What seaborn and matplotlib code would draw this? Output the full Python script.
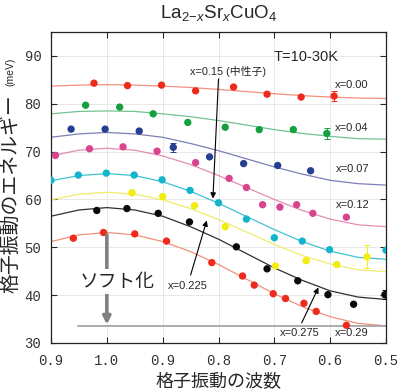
import numpy as np
import pandas as pd
import matplotlib
matplotlib.use('Agg')
import matplotlib.pyplot as plt
import seaborn as sns

# 横軸は目盛り単位 (0..6) で持ち、ラベルだけ差し替える
tick_pos = [0, 1, 2, 3, 4, 5, 6]
tick_labels = ['0.9', '1.0', '0.9', '0.8', '0.7', '0.6', '0.5']
doping = ['0.00', '0.04', '0.07', '0.12', '0.15', '0.225', '0.275', '0.29']

# 測定点
q_000 = [0.77, 1.37, 1.98, 2.59, 3.27, 3.87, 4.48, 5.07]
e_000 = [84.3, 83.8, 83.9, 82.7, 83.5, 82.0, 81.4, 81.6]
q_004 = [0.62, 1.23, 1.83, 2.45, 3.12, 3.73, 4.34, 4.94]
e_004 = [79.7, 79.3, 77.9, 76.1, 75.1, 74.6, 74.6, 73.8]
q_007 = [0.36, 0.97, 1.58, 2.19, 2.84, 3.45, 4.06, 4.65]
e_007 = [74.7, 74.7, 74.3, 70.9, 68.9, 67.5, 67.1, 66.0]
q_012 = [0.08, 0.69, 1.29, 1.90, 2.59, 3.19, 3.50, 3.79, 4.10, 4.40, 4.69, 5.29]
e_012 = [69.2, 70.6, 71.0, 70.1, 67.7, 64.4, 62.5, 58.9, 58.4, 58.9, 57.1, 56.3]
q_015 = [0.0, 0.49, 0.99, 1.49, 1.99, 2.49, 3.00, 3.50, 4.00, 4.50, 4.99, 6.00]
e_015 = [64.0, 65.1, 65.5, 65.1, 64.1, 61.9, 59.3, 55.9, 52.0, 51.3, 49.5, 49.4]
q_0225 = [1.45, 2.00, 2.57, 3.12, 4.02, 4.57, 5.12, 5.66]
e_0225 = [61.4, 60.6, 58.7, 54.3, 46.1, 47.2, 46.4, 48.0]
q_0275 = [0.82, 1.36, 1.92, 2.48, 3.32, 3.87, 4.42, 4.96, 5.42, 5.98]
e_0275 = [57.7, 58.1, 57.1, 55.3, 50.1, 45.5, 43.0, 40.1, 38.1, 40.1]
q_029 = [0.40, 0.94, 1.50, 2.07, 2.88, 3.43, 3.64, 3.98, 4.20, 4.53, 4.75, 5.29]
e_029 = [51.9, 53.1, 52.8, 51.3, 46.8, 44.0, 42.1, 40.3, 39.3, 38.3, 36.6, 33.7]

# フィット曲線 (図から読んだ値)
fit_q = [0, 0.5, 1, 1.5, 2, 2.5, 3, 3.5, 4, 4.5, 5, 5.5, 6]
fit_000 = [83.7, 83.9, 84.0, 83.9, 83.7, 83.4, 83.0, 82.55, 82.1, 81.7, 81.4, 81.2, 81.1]
fit_004 = [77.9, 78.4, 78.5, 78.4, 77.9, 77.3, 76.5, 75.55, 74.6, 73.8, 73.2, 72.7, 72.6]
fit_007 = [73.0, 73.7, 74.0, 73.7, 73.0, 71.7, 70.2, 68.5, 66.8, 65.3, 64.0, 63.3, 63.0]
fit_012 = [69.1, 70.3, 70.7, 70.3, 69.1, 67.3, 65.0, 62.5, 60.0, 57.7, 55.9, 54.7, 54.3]
fit_015 = [63.9, 65.0, 65.4, 65.0, 63.7, 61.7, 59.2, 56.45, 53.7, 51.2, 49.2, 47.9, 47.5]
fit_0225 = [59.9, 61.1, 61.5, 61.1, 59.9, 58.1, 55.8, 53.2, 50.6, 48.3, 46.5, 45.3, 44.9]
fit_0275 = [56.5, 57.8, 58.3, 57.8, 56.5, 54.3, 51.7, 48.7, 45.7, 43.1, 40.9, 39.6, 39.1]
fit_029 = [51.2, 52.6, 53.1, 52.6, 51.2, 49.1, 46.4, 43.35, 40.3, 37.6, 35.5, 34.1, 33.6]

# 誤差棒 (系列, 点の番号, 大きさ)
err_series = ['0.00', '0.04', '0.07', '0.225', '0.275']
err_index = [7, 7, 3, 7, 9]
err_size = [1.1, 1.2, 0.9, 2.4, 1.0]

# ソフト化の矢印と下限線
soft_q = 1.0
soft_top = 52.6
soft_floor = 33.65
floor_q = [0.48, 6.0]

pts_q = [q_000, q_004, q_007, q_012, q_015, q_0225, q_0275, q_029]
pts_e = [e_000, e_004, e_007, e_012, e_015, e_0225, e_0275, e_029]
fits = [fit_000, fit_004, fit_007, fit_012, fit_015, fit_0225, fit_0275, fit_029]

dot_colors = ['#ee2a1c', '#14a040', '#263f92', '#d8448e', '#14b4cc', '#f2ec10', '#0a0a0a', '#ee2a1c']
line_colors = ['#f2907e', '#74c294', '#7c80b8', '#e68cb4', '#40c2d4', '#f0ec6a', '#303030', '#f2907e']

pts = pd.concat([pd.DataFrame({'q': q, 'E': e, 'x': d}) for q, e, d in zip(pts_q, pts_e, doping)])
fit_df = pd.concat([pd.DataFrame({'q': fit_q, 'E': f, 'x': d}) for f, d in zip(fits, doping)])

sns.set_style('ticks')
plt.rcParams['font.family'] = ['Liberation Sans', 'Noto Sans CJK JP', 'DejaVu Sans']
plt.rcParams['mathtext.fontset'] = 'custom'
plt.rcParams['mathtext.rm'] = 'Liberation Sans'
plt.rcParams['mathtext.it'] = 'Liberation Sans:italic'

fig = plt.figure(figsize=(4, 3.91), dpi=100)
ax = fig.add_axes([51 / 400, 48 / 391, 335 / 400, 311 / 391])

for v in tick_pos:
    ax.axvline(v, color='#e4e4e4', lw=0.6, zorder=0)
for v in range(30, 100, 10):
    ax.axhline(v, color='#e4e4e4', lw=0.6, zorder=0)

sns.lineplot(data=fit_df, x='q', y='E', hue='x', palette=dict(zip(doping, line_colors)),
             lw=0.9, legend=False, ax=ax, zorder=2)
sns.scatterplot(data=pts, x='q', y='E', hue='x', palette=dict(zip(doping, dot_colors)),
                s=28, linewidth=0, legend=False, ax=ax, zorder=3)

for d, i, s in zip(err_series, err_index, err_size):
    k = doping.index(d)
    ax.errorbar(pts_q[k][i], pts_e[k][i], yerr=s, fmt='none', ecolor=dot_colors[k],
                elinewidth=0.7, capsize=2, capthick=0.7, zorder=3)

ax.plot(floor_q, [soft_floor, soft_floor], color='#ababab', lw=1.4, zorder=2)
ax.annotate('', xy=(soft_q, soft_floor + 0.2), xytext=(soft_q, soft_top),
            arrowprops=dict(arrowstyle='-|>', lw=2.6, color='#808080', mutation_scale=11,
                            shrinkA=0, shrinkB=0), zorder=4)
ax.text(0.52, 42.8, 'ソフト化', fontsize=13.5, ha='left', va='center', zorder=5,
        family=['Noto Sans CJK JP'], bbox=dict(fc='white', ec='none', pad=1.5))

arrow_kw = dict(arrowstyle='-|>', lw=0.8, color='k', mutation_scale=8, shrinkA=0, shrinkB=0)
ax.annotate('', xy=(2.90, 60.2), xytext=(3.0, 85.2), arrowprops=arrow_kw, zorder=5)
ax.annotate('', xy=(2.79, 55.6), xytext=(2.50, 44.2), arrowprops=arrow_kw, zorder=5)
ax.annotate('', xy=(4.79, 41.6), xytext=(4.49, 34.2), arrowprops=arrow_kw, zorder=5)

ax.text(3.98, 89.8, 'T=10-30K', fontsize=10.5, va='center')
ax.text(2.49, 86.8, 'x=0.15 (中性子)', fontsize=7.8, va='center')
lab_kw = dict(fontsize=8, va='center')
ax.text(5.09, 83.9, 'x=0.00', **lab_kw)
ax.text(5.09, 75.0, 'x=0.04', **lab_kw)
ax.text(5.11, 66.3, 'x=0.07', **lab_kw)
ax.text(5.11, 58.8, 'x=0.12', **lab_kw)
ax.text(2.10, 41.9, 'x=0.225', **lab_kw)
ax.text(4.10, 32.0, 'x=0.275', **lab_kw)
ax.text(5.09, 32.0, 'x=0.29', **lab_kw)

ax.set_xlim(0, 6)
ax.set_ylim(30, 95)
ax.set_xticks(tick_pos)
ax.set_xticklabels(tick_labels)
ax.set_yticks(range(30, 100, 10))
ax.tick_params(direction='in', top=True, right=True, length=4, width=0.8, labelsize=10,
               labelcolor='#333333')
ax.tick_params(axis='x', pad=8)
ax.tick_params(axis='y', pad=7)
for lab in ax.get_xticklabels() + ax.get_yticklabels():
    lab.set_family(['Liberation Mono'])
for sp in ax.spines.values():
    sp.set_linewidth(0.9)
    sp.set_color('#222222')
ax.set_xlabel('')
ax.set_ylabel('')

fig.text(0.546, 1 - 13 / 391, r'La$_{2\!-\!x}$Sr$_x$CuO$_4$', fontsize=13.5, ha='center', va='center')
fig.text(0.546, 1 - 381 / 391, '格子振動の波数', fontsize=13, ha='center', va='center',
         family=['Noto Sans CJK JP'])
fig.text(12 / 400, 1 - 194 / 391, '格子振動のエネルギー', fontsize=14.3, rotation=90,
         ha='center', va='center', family=['Noto Sans CJK JP'])
fig.text(10 / 400, 1 - 72 / 391, '(meV)', fontsize=7.5, rotation=90, ha='center', va='center')

fig.savefig('out.png', dpi=100)
